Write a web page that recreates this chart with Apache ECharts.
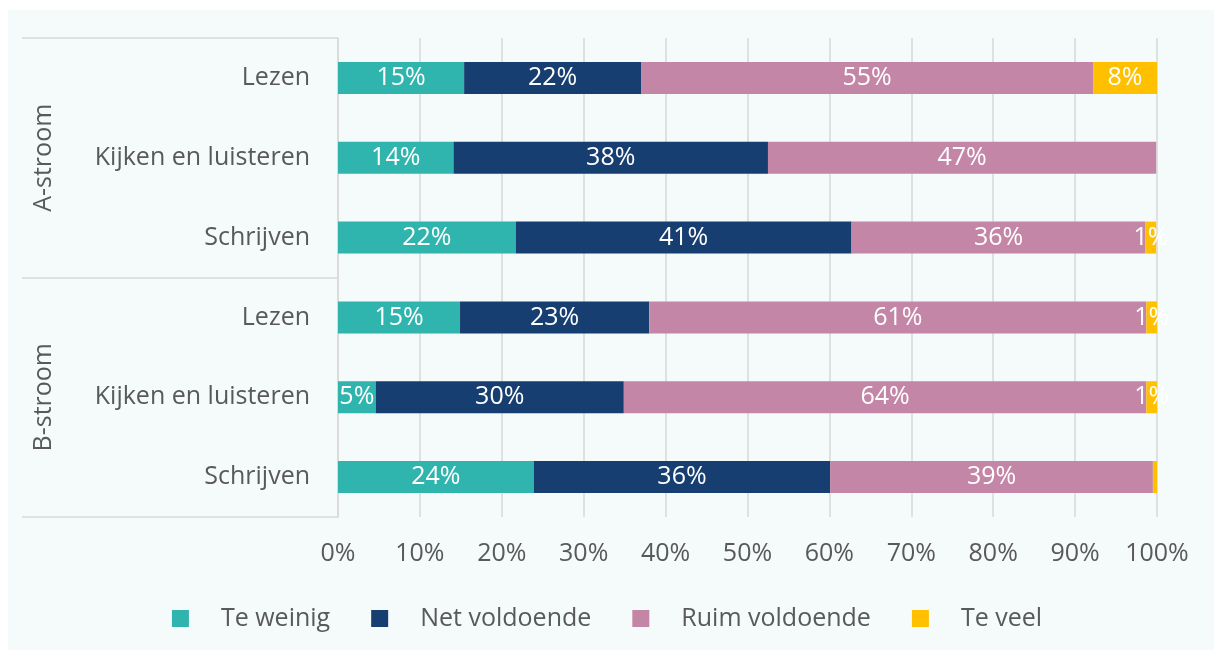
<!DOCTYPE html>
<html>
<head>
<meta charset="utf-8">
<script src="https://cdn.jsdelivr.net/npm/echarts@6/dist/echarts.min.js"></script>
<style>
  html, body { margin: 0; padding: 0; background: #fff; }
  #chart {
    width: 1214px;
    height: 650px;
    background: linear-gradient(#f4fbfa, #f4fbfa) no-repeat 8px 10px / 100% 100%, #fff;
  }
</style>
</head>
<body>
<div id="chart"></div>
<script>
// categories (group|label), top to bottom
const categories = ['A|Lezen', 'A|Kijken en luisteren', 'A|Schrijven', 'B|Lezen', 'B|Kijken en luisteren', 'B|Schrijven'];
const groups = ['A-stroom', 'B-stroom'];
const seriesNames = ['Te weinig', 'Net voldoende', 'Ruim voldoende', 'Te veel'];

const teWeinig      = [15.4, 14.1, 21.7, 14.9, 4.6, 23.9];
const netVoldoende  = [21.6, 38.4, 41.0, 23.1, 30.3, 36.2];
const ruimVoldoende = [55.2, 47.4, 35.9, 60.7, 63.8, 39.4];
const teVeel        = [7.8, 0, 1.3, 1.3, 1.3, 0.5];

const colors = ['#2fb5ad', '#173e70', '#c486a6', '#ffc000'];
const textColor = '#595959';
const lineColor = '#d9d9d9';
const font = '"Open Sans", "Noto Sans", sans-serif';
const fs = 25;

let myChart = echarts.init(document.getElementById('chart'), null, { renderer: 'canvas' });

function makeSeries(name, data) {
  return {
    name: name,
    type: 'bar',
    stack: 'total',
    data: data,
    barWidth: 32,
    label: {
      show: true,
      position: 'inside',
      color: '#fff',
      fontSize: fs,
      fontFamily: font,
      formatter: function (p) {
        return p.value < 1 ? '' : Math.round(p.value) + '%';
      }
    },
    emphasis: { disabled: true }
  };
}

let option = {
  backgroundColor: 'transparent',
  color: colors,
  animation: false,
  textStyle: { fontFamily: font },
  grid: { left: 338, right: 57, top: 38, bottom: 133, containLabel: false },
  legend: {
    data: seriesNames,
    top: 601,
    left: 'center',
    icon: 'rect',
    itemWidth: 17,
    itemHeight: 17,
    itemGap: 41,
    textStyle: { fontSize: fs, color: textColor, fontFamily: font, padding: [0, 0, 0, 27] }
  },
  xAxis: {
    type: 'value',
    min: 0,
    max: 100,
    interval: 10,
    axisLine: { show: false },
    axisTick: { show: false },
    axisLabel: { formatter: '{value}%', fontSize: fs, color: textColor, fontFamily: font, margin: 24 },
    splitLine: { show: true, lineStyle: { color: lineColor, width: 1.5 } }
  },
  yAxis: [
    {
      type: 'category',
      data: categories,
      inverse: true,
      axisLine: { show: true, lineStyle: { color: lineColor, width: 1.5 } },
      axisTick: { show: false },
      axisLabel: {
        fontSize: fs,
        color: textColor,
        fontFamily: font,
        margin: 28,
        formatter: function (v) { return v.split('|')[1]; }
      }
    },
    {
      type: 'category',
      data: groups,
      inverse: true,
      position: 'left',
      offset: 316,
      axisLine: { show: false },
      axisTick: { show: true, inside: true, length: 316, lineStyle: { color: lineColor, width: 1.5 } },
      axisLabel: {
        inside: true,
        rotate: 90,
        margin: 9,
        fontSize: fs,
        color: textColor,
        fontFamily: font
      }
    }
  ],
  series: [
    makeSeries(seriesNames[0], teWeinig),
    makeSeries(seriesNames[1], netVoldoende),
    makeSeries(seriesNames[2], ruimVoldoende),
    makeSeries(seriesNames[3], teVeel)
  ]
};

myChart.setOption(option);
</script>
</body>
</html>
